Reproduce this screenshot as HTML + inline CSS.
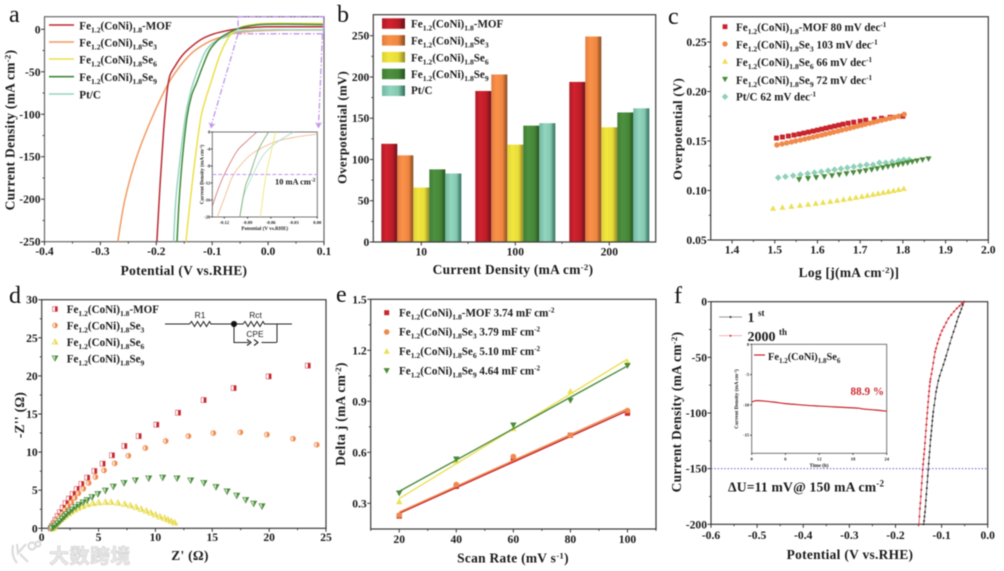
<!DOCTYPE html>
<html lang="en">
<head>
<meta charset="utf-8">
<title>Fe1.2(CoNi)1.8Se electrocatalyst charts</title>
<style>
html,body{margin:0;padding:0;background:#fff;}
body{width:1004px;height:571px;overflow:hidden;position:relative;}
svg{display:block;position:absolute;left:0;top:0;font-family:"Liberation Serif","Noto Serif CJK SC",serif;font-weight:bold;fill:#1a1a1a;filter:blur(0.45px);}
.leg{font-size:11.1px;white-space:pre;}
.tick{font-size:11.6px;}
.ttl{font-size:13.4px;letter-spacing:.3px;}
.ttl2{font-size:12.8px;letter-spacing:.3px;}
.letter{font-size:24px;font-weight:normal;fill:#111;}
.inlbl{font-size:4.6px;}
.inttl{font-size:5.2px;}
.wm{font-family:"Noto Sans CJK SC","WenQuanYi Zen Hei",sans-serif;font-size:20px;font-weight:bold;fill:#e9e9e9;stroke:#cfcfcf;stroke-width:.6px;letter-spacing:.5px;}
</style>
</head>
<body>
<svg id="fig" width="1004" height="571" viewBox="0 0 1004 571" xmlns="http://www.w3.org/2000/svg">
<defs>
<linearGradient id="gMOF"><stop offset="0" stop-color="#a91c28"/><stop offset=".3" stop-color="#d4222f"/><stop offset=".7" stop-color="#bb1c29"/><stop offset="1" stop-color="#6d1019"/></linearGradient>
<linearGradient id="gSe3"><stop offset="0" stop-color="#e07c3e"/><stop offset=".3" stop-color="#fb9149"/><stop offset=".7" stop-color="#ef8742"/><stop offset="1" stop-color="#85481f"/></linearGradient>
<linearGradient id="gSe6"><stop offset="0" stop-color="#dcd03a"/><stop offset=".3" stop-color="#f3e63e"/><stop offset=".7" stop-color="#e9dc3a"/><stop offset="1" stop-color="#8f8620"/></linearGradient>
<linearGradient id="gSe9"><stop offset="0" stop-color="#3f7d35"/><stop offset=".3" stop-color="#4d9140"/><stop offset=".7" stop-color="#468739"/><stop offset="1" stop-color="#25501f"/></linearGradient>
<linearGradient id="gPt"><stop offset="0" stop-color="#6fb8a2"/><stop offset=".35" stop-color="#93d5be"/><stop offset=".7" stop-color="#84c8b0"/><stop offset="1" stop-color="#2f6b5c"/></linearGradient>
<clipPath id="clipA"><rect x="44.5" y="16.7" width="279.5" height="225"/></clipPath>
<clipPath id="clipAI"><rect x="212.3" y="132" width="105" height="85"/></clipPath>
</defs>

<g id="panel-a">
 <text class="letter" x="9" y="22">a</text>
 <g id="a-axes"></g>
 <g id="a-marks" clip-path="url(#clipA)"></g>
 <g fill="none" stroke="#c296ea" stroke-width="1.3" stroke-dasharray="6 2 1.5 2">
  <rect x="238" y="16.8" width="85.5" height="17"/>
  <path d="M238 33.8 L211 126"/>
  <path d="M322.5 33.8 L318.5 126"/>
 </g>
 <path d="M208.5 122 L211 128.5 L215.5 123.5 L211.5 124.5Z M315 122 L318.5 128.5 L322 122 L318.5 124Z" fill="#c296ea"/>
 <g class="leg">
  <g id="a-legend-lines"></g>
  <text x="79.3" y="29.5">Fe<tspan font-size="7.6" dy="3">1.2</tspan><tspan dy="-3">(CoNi)</tspan><tspan font-size="7.6" dy="3">1.8</tspan><tspan dy="-3">-MOF</tspan></text>
  <text x="79.3" y="46.5">Fe<tspan font-size="7.6" dy="3">1.2</tspan><tspan dy="-3">(CoNi)</tspan><tspan font-size="7.6" dy="3">1.8</tspan><tspan dy="-3">Se</tspan><tspan font-size="7.6" dy="3">3</tspan></text>
  <text x="79.3" y="63.5">Fe<tspan font-size="7.6" dy="3">1.2</tspan><tspan dy="-3">(CoNi)</tspan><tspan font-size="7.6" dy="3">1.8</tspan><tspan dy="-3">Se</tspan><tspan font-size="7.6" dy="3">6</tspan></text>
  <text x="79.3" y="81">Fe<tspan font-size="7.6" dy="3">1.2</tspan><tspan dy="-3">(CoNi)</tspan><tspan font-size="7.6" dy="3">1.8</tspan><tspan dy="-3">Se</tspan><tspan font-size="7.6" dy="3">9</tspan></text>
  <text x="79.3" y="98.5">Pt/C</text>
 </g>
 <text class="ttl" x="184" y="275" text-anchor="middle">Potential (V vs.RHE)</text>
 <text class="ttl" transform="translate(14.5,130) rotate(-90)" text-anchor="middle">Current Density (mA cm<tspan font-size="8.8" dy="-4">-2</tspan><tspan dy="4">)</tspan></text>
 <g id="ai-axes"></g>
 <g id="ai-marks" clip-path="url(#clipAI)"></g>
 <line id="ai-ref" x1="212.3" x2="317.3" y1="174.5" y2="174.5" stroke="#c296ea" stroke-width="1" stroke-dasharray="4 2"/>
 <text x="275" y="184.5" font-size="8.4">10 mA cm<tspan font-size="5.5" dy="-3">-2</tspan></text>
 <text class="inttl" x="264.8" y="230" text-anchor="middle">Potential (V vs.RHE)</text>
 <text class="inttl" transform="translate(203.5,174.5) rotate(-90)" text-anchor="middle">Current Density (mA cm<tspan font-size="3.5" dy="-1.5">-2</tspan><tspan dy="1.5">)</tspan></text>
</g>

<g id="panel-b">
 <text class="letter" x="337" y="22">b</text>
 <g id="b-marks"></g>
 <g id="b-axes"></g>
 <g class="leg">
  <g id="b-legend-swatches"></g>
  <text x="411" y="27.5">Fe<tspan font-size="7.6" dy="3">1.2</tspan><tspan dy="-3">(CoNi)</tspan><tspan font-size="7.6" dy="3">1.8</tspan><tspan dy="-3">-MOF</tspan></text>
  <text x="411" y="44.5">Fe<tspan font-size="7.6" dy="3">1.2</tspan><tspan dy="-3">(CoNi)</tspan><tspan font-size="7.6" dy="3">1.8</tspan><tspan dy="-3">Se</tspan><tspan font-size="7.6" dy="3">3</tspan></text>
  <text x="411" y="61.5">Fe<tspan font-size="7.6" dy="3">1.2</tspan><tspan dy="-3">(CoNi)</tspan><tspan font-size="7.6" dy="3">1.8</tspan><tspan dy="-3">Se</tspan><tspan font-size="7.6" dy="3">6</tspan></text>
  <text x="411" y="78">Fe<tspan font-size="7.6" dy="3">1.2</tspan><tspan dy="-3">(CoNi)</tspan><tspan font-size="7.6" dy="3">1.8</tspan><tspan dy="-3">Se</tspan><tspan font-size="7.6" dy="3">9</tspan></text>
  <text x="411" y="94">Pt/C</text>
 </g>
 <text class="ttl" x="513" y="274" text-anchor="middle">Current Density (mA cm<tspan font-size="8.8" dy="-4">-2</tspan><tspan dy="4">)</tspan></text>
 <text class="ttl2" transform="translate(346.5,127.5) rotate(-90)" text-anchor="middle">Overpotential (mV)</text>
</g>

<g id="panel-c">
 <text class="letter" x="668" y="24">c</text>
 <g id="c-axes"></g>
 <g id="c-marks"></g>
 <g class="leg">
  <g id="c-legend-marks"></g>
  <text x="736" y="31">Fe<tspan font-size="7.6" dy="3">1.2</tspan><tspan dy="-3">(CoNi)</tspan><tspan font-size="7.6" dy="3">1.8</tspan><tspan dy="-3">-MOF  80 mV dec</tspan><tspan font-size="7.2" dy="-4">-1</tspan></text>
  <text x="736" y="48.5">Fe<tspan font-size="7.6" dy="3">1.2</tspan><tspan dy="-3">(CoNi)</tspan><tspan font-size="7.6" dy="3">1.8</tspan><tspan dy="-3">Se</tspan><tspan font-size="7.6" dy="3">3</tspan><tspan dy="-3">  103 mV dec</tspan><tspan font-size="7.2" dy="-4">-1</tspan></text>
  <text x="736" y="66">Fe<tspan font-size="7.6" dy="3">1.2</tspan><tspan dy="-3">(CoNi)</tspan><tspan font-size="7.6" dy="3">1.8</tspan><tspan dy="-3">Se</tspan><tspan font-size="7.6" dy="3">6</tspan><tspan dy="-3">  66 mV dec</tspan><tspan font-size="7.2" dy="-4">-1</tspan></text>
  <text x="736" y="84">Fe<tspan font-size="7.6" dy="3">1.2</tspan><tspan dy="-3">(CoNi)</tspan><tspan font-size="7.6" dy="3">1.8</tspan><tspan dy="-3">Se</tspan><tspan font-size="7.6" dy="3">9</tspan><tspan dy="-3">  72 mV dec</tspan><tspan font-size="7.2" dy="-4">-1</tspan></text>
  <text x="736" y="100.5">Pt/C  62 mV dec<tspan font-size="7.2" dy="-4">-1</tspan></text>
 </g>
 <text class="ttl" x="849" y="277" text-anchor="middle">Log [j(mA cm<tspan font-size="8.8" dy="-4">-2</tspan><tspan dy="4">)]</tspan></text>
 <text class="ttl2" transform="translate(682,129) rotate(-90)" text-anchor="middle">Overpotential (V)</text>
</g>

<g id="panel-d">
 <text class="letter" x="9" y="303">d</text>
 <g id="d-axes"></g>
 <g id="d-marks"></g>
 <g class="leg">
  <g id="d-legend-marks"></g>
  <text x="66.7" y="313">Fe<tspan font-size="7.6" dy="3">1.2</tspan><tspan dy="-3">(CoNi)</tspan><tspan font-size="7.6" dy="3">1.8</tspan><tspan dy="-3">-MOF</tspan></text>
  <text x="66.7" y="329.5">Fe<tspan font-size="7.6" dy="3">1.2</tspan><tspan dy="-3">(CoNi)</tspan><tspan font-size="7.6" dy="3">1.8</tspan><tspan dy="-3">Se</tspan><tspan font-size="7.6" dy="3">3</tspan></text>
  <text x="66.7" y="346">Fe<tspan font-size="7.6" dy="3">1.2</tspan><tspan dy="-3">(CoNi)</tspan><tspan font-size="7.6" dy="3">1.8</tspan><tspan dy="-3">Se</tspan><tspan font-size="7.6" dy="3">6</tspan></text>
  <text x="66.7" y="362.5">Fe<tspan font-size="7.6" dy="3">1.2</tspan><tspan dy="-3">(CoNi)</tspan><tspan font-size="7.6" dy="3">1.8</tspan><tspan dy="-3">Se</tspan><tspan font-size="7.6" dy="3">9</tspan></text>
 </g>
 <g fill="none" stroke="#222" stroke-width="1">
  <path d="M165 324 H189.5 l2 -2.5 l3 5 l3 -5 l3 5 l3 -5 l3 5 l3 -5 l1.5 2.5 H233.5 H243 l2 -2.5 l3 5 l3 -5 l3 5 l3 -5 l3 5 l3 -5 l1.5 2.5 H292 M234 324 V342.5 H249 M276.5 342.5 H262 V343 M277 342.5 V324"/>
  <path d="M247 339.5 L251 342.5 L247 345.5 M254 339.5 L258 342.5 L254 345.5" stroke-width="1.1"/>
  <circle cx="234" cy="324" r="2.6" fill="#111"/>
 </g>
 <g font-family='"Liberation Sans",sans-serif' font-weight="normal" font-size="8.4">
  <text x="200" y="318" text-anchor="middle">R1</text>
  <text x="255.5" y="318" text-anchor="middle">Rct</text>
  <text x="255" y="337" text-anchor="middle">CPE</text>
 </g>
 <text class="ttl" x="190" y="560" text-anchor="middle">Z' (Ω)</text>
 <text class="ttl" transform="translate(24,415) rotate(-90)" text-anchor="middle">-Z'' (Ω)</text>
</g>

<g id="panel-e">
 <text class="letter" x="336" y="302" font-size="24">e</text>
 <g id="e-axes"></g>
 <g id="e-marks"></g>
 <g class="leg">
  <g id="e-legend-marks"></g>
  <text x="399" y="316.5">Fe<tspan font-size="7.6" dy="3">1.2</tspan><tspan dy="-3">(CoNi)</tspan><tspan font-size="7.6" dy="3">1.8</tspan><tspan dy="-3">-MOF 3.74 mF cm</tspan><tspan font-size="7.2" dy="-4">-2</tspan></text>
  <text x="399" y="335.5">Fe<tspan font-size="7.6" dy="3">1.2</tspan><tspan dy="-3">(CoNi)</tspan><tspan font-size="7.6" dy="3">1.8</tspan><tspan dy="-3">Se</tspan><tspan font-size="7.6" dy="3">3</tspan><tspan dy="-3"> 3.79 mF cm</tspan><tspan font-size="7.2" dy="-4">-2</tspan></text>
  <text x="399" y="355">Fe<tspan font-size="7.6" dy="3">1.2</tspan><tspan dy="-3">(CoNi)</tspan><tspan font-size="7.6" dy="3">1.8</tspan><tspan dy="-3">Se</tspan><tspan font-size="7.6" dy="3">6</tspan><tspan dy="-3"> 5.10 mF cm</tspan><tspan font-size="7.2" dy="-4">-2</tspan></text>
  <text x="399" y="374.5">Fe<tspan font-size="7.6" dy="3">1.2</tspan><tspan dy="-3">(CoNi)</tspan><tspan font-size="7.6" dy="3">1.8</tspan><tspan dy="-3">Se</tspan><tspan font-size="7.6" dy="3">9</tspan><tspan dy="-3"> 4.64 mF cm</tspan><tspan font-size="7.2" dy="-4">-2</tspan></text>
 </g>
 <text class="ttl" x="513" y="562.5" text-anchor="middle">Scan Rate (mV s<tspan font-size="8.8" dy="-4">-1</tspan><tspan dy="4">)</tspan></text>
 <text class="ttl" transform="translate(345,414) rotate(-90)" text-anchor="middle">Delta j (mA cm<tspan font-size="8.8" dy="-4">-2</tspan><tspan dy="4">)</tspan></text>
</g>

<g id="panel-f">
 <text class="letter" x="674" y="303">f</text>
 <g id="f-axes"></g>
 <line id="f-ref" stroke="#6a5fd0" stroke-width="1" stroke-dasharray="1.5 1.8"/>
 <g id="f-marks"></g>
 <g>
  <g id="f-legend-lines"></g>
  <text x="747.5" y="322" font-size="14">1 <tspan font-size="9" dy="-6">st</tspan></text>
  <text x="747.5" y="341" font-size="14">2000 <tspan font-size="9" dy="-6">th</tspan></text>
 </g>
 <text x="728" y="491.5" font-size="13.6" letter-spacing=".2">ΔU=11 mV@ 150 mA cm<tspan font-size="9" dy="-5">-2</tspan></text>
 <text class="ttl" x="850" y="559" text-anchor="middle">Potential (V vs.RHE)</text>
 <text class="ttl" transform="translate(681,412) rotate(-90)" text-anchor="middle">Current Density (mA cm<tspan font-size="8.8" dy="-4">-2</tspan><tspan dy="4">)</tspan></text>
 <g id="fi-axes"></g>
 <g id="fi-marks"></g>
 <line x1="754" x2="765" y1="355" y2="355" stroke="#c8242c" stroke-width="1.2"/>
 <text x="768" y="360" font-size="10.4">Fe<tspan font-size="7" dy="3">1.2</tspan><tspan dy="-3">(CoNi)</tspan><tspan font-size="7" dy="3">1.8</tspan><tspan dy="-3">Se</tspan><tspan font-size="7" dy="3">6</tspan></text>
 <text x="850.5" y="395" font-size="11.2" fill="#cf2a30">88.9 %</text>
 <text class="inttl" x="819" y="467" text-anchor="middle" font-size="5.6">Time (h)</text>
 <text class="inttl" transform="translate(738,399) rotate(-90)" text-anchor="middle">Current Density (mA cm<tspan font-size="3.5" dy="-1.5">-2</tspan><tspan dy="1.5">)</tspan></text>
</g>

<g>
 <g fill="none" stroke="#dcdcdc" stroke-width="2.2">
  <path d="M13 545 Q11 556 17 563 M17 544 L18 553 L26 544 M20 554 L28 562"/>
  <circle cx="32" cy="546" r="3.5"/><circle cx="38" cy="544" r="2.5"/>
 </g>
 <text class="wm" x="49" y="563">大数跨境</text>
</g>
</svg>

<script>
// Panel a: main polarization curves (potential V, current density mA cm-2)
const aMofV = [-0.199,-0.193,-0.187,-0.181,-0.176,-0.168,-0.155,-0.14,-0.12,-0.1,-0.08,-0.06,-0.04,-0.02,0,0.05,0.1];
const aMofJ = [-250,-180,-120,-75,-55,-45,-32,-22,-12,-6,-2.5,0,1.5,2.5,3,3,3];
const aSe3V = [-0.269,-0.256,-0.235,-0.205,-0.175,-0.14,-0.107,-0.08,-0.062,-0.026,0.02,0.06,0.1];
const aSe3J = [-250,-200,-150,-100,-60,-30,-15,-8.5,-5,-2,-1,-0.9,-0.8];
const aSe6V = [-0.147,-0.139,-0.13,-0.119,-0.101,-0.086,-0.071,-0.056,-0.041,-0.02,0,0.05,0.1];
const aSe6J = [-250,-200,-150,-100,-60,-30,-10,0,4,6.2,7,7,6.8];
const aSe9V = [-0.163,-0.159,-0.153,-0.145,-0.137,-0.128,-0.116,-0.104,-0.086,-0.07,-0.053,-0.038,-0.015,0,0.05,0.1];
const aSe9J = [-250,-200,-150,-103,-78,-63,-42,-24,-10.5,-4,1,3.5,5.5,6,6,5.5];
const aPtV = [-0.169,-0.165,-0.157,-0.148,-0.141,-0.134,-0.122,-0.11,-0.092,-0.074,-0.056,-0.03,0,0.05,0.1];
const aPtJ = [-250,-200,-150,-103,-80,-63,-41,-24,-13,-8.6,-2.7,-1.2,-0.5,-0.5,-0.5];
// Panel a inset curves
const aiMofV = [-0.1355,-0.128,-0.12,-0.104,-0.09,-0.078];
const aiMofJ = [-17.5,-13.5,-10,-4.6,-2,0];
const aiSe3V = [-0.129,-0.12,-0.108,-0.09,-0.076,-0.054,-0.03,0];
const aiSe3J = [-20,-15.6,-10,-6,-4.2,-2.3,-1.25,-0.5];
const aiSe6V = [-0.0735,-0.07,-0.066,-0.06,-0.054];
const aiSe6J = [-20,-15,-10,-5,0];
const aiSe9V = [-0.1,-0.093,-0.087,-0.076,-0.063];
const aiSe9J = [-20,-12.9,-10,-4.2,0];
const aiPtV = [-0.1,-0.095,-0.083,-0.07,-0.055,-0.04,-0.03];
const aiPtJ = [-20,-15,-10,-5.5,-2.8,-1,0];
// Panel b: overpotential bars
const bCategories = ["10","100","200"];
const bMof = [119,183,194];
const bSe3 = [105,203,249];
const bSe6 = [66,118,139];
const bSe9 = [88,141,157];
const bPt = [83,144,162];
// Panel c: Tafel data
const cMofX = [1.504,1.518,1.532,1.545,1.557,1.568,1.579,1.59,1.6,1.61,1.62,1.63,1.64,1.65,1.66,1.672,1.685,1.7,1.713,1.733,1.75,1.77,1.8];
const cMofY = [.153,.154,.155,.156,.157,.158,.159,.16,.161,.162,.163,.164,.165,.166,.167,.168,.169,.17,.171,.172,.173,.174,.175];
const cSe3X = [1.505,1.517,1.528,1.539,1.549,1.56,1.57,1.58,1.59,1.6,1.61,1.619,1.629,1.638,1.648,1.657,1.667,1.676,1.685,1.694,1.703,1.712,1.722,1.731,1.74,1.75,1.76,1.77,1.78,1.79,1.803];
const cSe3Y = [.146,.147,.148,.149,.15,.151,.152,.153,.154,.155,.156,.157,.158,.159,.16,.161,.162,.163,.164,.165,.166,.167,.168,.169,.17,.171,.172,.173,.174,.175,.177];
const cSe6X = [1.496,1.518,1.539,1.559,1.578,1.596,1.613,1.63,1.646,1.661,1.676,1.69,1.704,1.717,1.73,1.742,1.754,1.766,1.778,1.79,1.802];
const cSe6Y = [.082,.083,.084,.085,.086,.087,.088,.089,.09,.091,.092,.093,.094,.095,.096,.097,.098,.099,.1,.101,.102];
const cSe9X = [1.557,1.578,1.597,1.616,1.634,1.651,1.668,1.684,1.699,1.713,1.727,1.74,1.753,1.765,1.777,1.789,1.8,1.811,1.822,1.833,1.846,1.86];
const cSe9Y = [.111,.112,.113,.114,.115,.116,.117,.118,.119,.12,.121,.122,.123,.124,.125,.126,.127,.128,.129,.13,.131,.132];
const cPtX = [1.508,1.525,1.543,1.56,1.577,1.593,1.609,1.625,1.64,1.655,1.67,1.685,1.7,1.715,1.73,1.745,1.76,1.775,1.79,1.802,1.815];
const cPtY = [.113,.114,.115,.116,.117,.118,.119,.12,.121,.122,.123,.124,.125,.126,.126,.128,.128,.129,.13,.131,.131];
// Panel d: Nyquist data
const dMofX = [23.4,19.96,16.88,14.24,11.99,10.08,8.53,7.27,6.18,5.36,4.63,4,3.49,3.08,2.73,2.4,2.1,1.85,1.6,1.4,1.2,1.05,.9,.8];
const dMofY = [21.35,19.94,18.4,16.83,15.17,13.6,12.1,10.8,9.58,8.48,7.52,6.65,5.82,5.16,4.5,3.9,3.3,2.7,2.1,1.6,1.1,.65,.3,0];
const dSe3X = [24.18,22.1,19.8,17.47,15.09,12.9,10.9,9.11,7.62,6.42,5.48,4.72,4.13,3.66,3.22,2.9,2.6,2.3,2.05,1.8,1.55,1.3,1.1,.95,.85];
const dSe3Y = [10.97,11.76,12.3,12.6,12.5,12.1,11.46,10.54,9.53,8.53,7.6,6.73,5.95,5.2,4.6,4,3.4,2.9,2.4,1.9,1.45,1,.6,.25,0];
const dSe6X = [11.7,11.4,11.1,10.8,10.4,10,9.6,9.2,8.75,8.3,7.8,7.3,6.7,6.1,5.6,5,4.5,4,3.6,3.2,2.9,2.6,2.35,2.1,1.9,1.7,1.5,1.35,1.2,1.1,1];
const dSe6Y = [.75,.95,1.15,1.35,1.55,1.8,2.05,2.3,2.55,2.8,3,3.2,3.35,3.45,3.45,3.4,3.3,3.15,2.9,2.7,2.45,2.2,1.95,1.7,1.45,1.2,.95,.7,.45,.2,0];
const dSe9X = [19.37,18.64,17.94,17.15,16.3,15.33,14.27,13.1,11.9,10.64,9.41,8.24,7.24,6.3,5.6,4.95,4.43,4,3.65,3.3,3,2.7,2.45,2.2,2,1.8,1.6,1.4,1.2,1,.85];
const dSe9Y = [2.89,3.24,3.72,4.29,4.85,5.42,5.95,6.3,6.56,6.65,6.56,6.3,5.95,5.47,4.94,4.5,4.1,3.7,3.4,3.1,2.8,2.45,2.15,1.85,1.55,1.25,.95,.65,.35,.1,0];
// Panel e: double-layer capacitance data
const eScanRates = [20,40,60,80,100];
const eMof = [.225,.40,.56,.70,.83];
const eSe3 = [.23,.41,.575,.70,.845];
const eSe6 = [.31,.55,.74,.96,1.13];
const eSe9 = [.36,.56,.76,.905,1.11];
// Panel f: before/after cycling polarization
const fFirstV = [-0.051,-0.054,-0.057,-0.06,-0.0636,-0.067,-0.07,-0.074,-0.078,-0.082,-0.086,-0.09,-0.0925,-0.096,-0.1,-0.104,-0.107,-0.11,-0.112,-0.114,-0.116,-0.118,-0.119,-0.12,-0.121,-0.122,-0.123,-0.124,-0.125,-0.126,-0.127,-0.128,-0.129,-0.13,-0.131,-0.132,-0.133,-0.134,-0.135,-0.136,-0.137,-0.138,-0.139];
const fFirstJ = [0,-3,-6.5,-10,-13.5,-18,-22,-27,-32,-37.5,-43,-48.5,-52,-56.5,-61.5,-66.5,-71,-77,-81,-87,-93,-99,-103,-107,-111.5,-116,-120.5,-124,-129.5,-135,-140,-145.5,-151,-156.5,-162,-167.5,-173,-178.5,-184,-189,-193,-197,-200];
const fSecondV = [-0.051,-0.056,-0.061,-0.067,-0.073,-0.079,-0.085,-0.09,-0.095,-0.099,-0.103,-0.106,-0.109,-0.112,-0.114,-0.116,-0.118,-0.12,-0.122,-0.124,-0.125,-0.126,-0.127,-0.128,-0.129,-0.13,-0.131,-0.132,-0.133,-0.134,-0.135,-0.136,-0.137,-0.138,-0.139,-0.14,-0.141,-0.142,-0.143,-0.144,-0.145,-0.146,-0.147,-0.148,-0.149];
const fSecondJ = [0,-1.8,-3.8,-6,-8.8,-11.8,-15,-18.8,-22.8,-26,-30,-33.5,-37.5,-42,-45,-50,-55,-60.5,-65,-69.5,-72,-76,-80.5,-85,-90,-95,-100,-105,-110.5,-116,-121.5,-127,-132.5,-137,-141.5,-146,-151,-157,-163,-169,-175,-181,-186,-193,-200];
// Panel f inset: chronoamperometry
const fiTime = [0,0.5,1,2,4,6,8,10,12,14,16,18,19,20,22,24];
const fiJ = [-9.55,-9.35,-9.3,-9.35,-9.55,-9.8,-9.95,-10.1,-10.2,-10.3,-10.4,-10.5,-10.55,-10.7,-10.85,-11.05];

const NS = "http://www.w3.org/2000/svg";
const col = {mof:"#c8242c",se3:"#f08a4b",se6:"#ecdf55",se9:"#4a8a3a",pt:"#90d0b8"};
const lineCol = {mof:"#b92a32",se3:"#f29a62",se6:"#ece04a",se9:"#3f8a3c",pt:"#98d4c0"};

function scale(d0,d1,r0,r1){return v=>r0+(v-d0)*(r1-r0)/(d1-d0);}
function byId(i){return document.getElementById(i);}
function make(tag,attrs){const n=document.createElementNS(NS,tag);for(const k in attrs)n.setAttribute(k,attrs[k]);return n;}

function drawAxes(gid,o){
  const g=byId(gid);
  const frame=make("rect",{x:o.l,y:o.t,width:o.r-o.l,height:o.b-o.t,fill:"none",stroke:o.frame||"#3a3a3a","stroke-width":o.sw||1.2});
  
  
  g.appendChild(frame);
  const tl=o.tl||3.5;
  (o.xTicks||[]).forEach((t,i)=>{
    const x=o.x(t);
    const tick=make("line",{x1:x,x2:x,y1:o.b,y2:o.b+tl,stroke:"#333","stroke-width":1});
    
    
    g.appendChild(tick);
    const lab=make("text",{x:x,y:o.b+(o.xOff||13.5),"text-anchor":"middle",class:o.cls||"tick"});
    
    
    lab.textContent=o.xLabels?o.xLabels[i]:t;
    g.appendChild(lab);
  });
  (o.xMinor||[]).forEach(t=>{
    const x=o.x(t);
    const tick=make("line",{x1:x,x2:x,y1:o.b,y2:o.b+tl*0.55,stroke:"#333","stroke-width":.9});
    
    
    g.appendChild(tick);
  });
  (o.yTicks||[]).forEach((t,i)=>{
    const y=o.y(t);
    const tick=make("line",{x1:o.l-tl,x2:o.l,y1:y,y2:y,stroke:"#333","stroke-width":1});
    
    
    g.appendChild(tick);
    const lab=make("text",{x:o.l-(o.yOff||4),y:y+(o.yBase||4),"text-anchor":"end",class:o.cls||"tick"});
    
    
    lab.textContent=o.yLabels?o.yLabels[i]:t;
    g.appendChild(lab);
  });
  (o.yMinor||[]).forEach(t=>{
    const y=o.y(t);
    const tick=make("line",{x1:o.l-tl*0.55,x2:o.l,y1:y,y2:y,stroke:"#333","stroke-width":.9});
    
    
    g.appendChild(tick);
  });
}

function smooth(xs,ys,sx,sy){
  const p=xs.map((v,i)=>[sx(v),sy(ys[i])]);
  let d="M"+p[0][0].toFixed(2)+" "+p[0][1].toFixed(2);
  for(let i=0;i<p.length-1;i++){
    const a=p[Math.max(i-1,0)],b=p[i],c=p[i+1],e=p[Math.min(i+2,p.length-1)];
    const c1x=b[0]+(c[0]-a[0])/6,c1y=b[1]+(c[1]-a[1])/6,c2x=c[0]-(e[0]-b[0])/6,c2y=c[1]-(e[1]-b[1])/6;
    d+=" C"+c1x.toFixed(2)+" "+c1y.toFixed(2)+" "+c2x.toFixed(2)+" "+c2y.toFixed(2)+" "+c[0].toFixed(2)+" "+c[1].toFixed(2);
  }
  return d;
}
function curve(gid,xs,ys,sx,sy,color,w,name){
  const el=make("path",{d:smooth(xs,ys,sx,sy),fill:"none",stroke:color,"stroke-width":w,"stroke-linejoin":"round"});
  
  
  byId(gid).appendChild(el);
}

function marker(parent,kind,cx,cy,r,color,name){
  let el;
  if(kind==="square") el=make("rect",{x:cx-r,y:cy-r,width:2*r,height:2*r,fill:color});
  else if(kind==="circle") el=make("circle",{cx:cx,cy:cy,r:r*1.1,fill:color});
  else if(kind==="up") el=make("polygon",{points:(cx)+","+(cy-r*1.25)+" "+(cx+r*1.25)+","+(cy+r)+" "+(cx-r*1.25)+","+(cy+r),fill:color});
  else if(kind==="down") el=make("polygon",{points:(cx)+","+(cy+r*1.25)+" "+(cx+r*1.25)+","+(cy-r)+" "+(cx-r*1.25)+","+(cy-r),fill:color});
  else el=make("polygon",{points:(cx)+","+(cy-r*1.35)+" "+(cx+r*1.35)+","+cy+" "+(cx)+","+(cy+r*1.35)+" "+(cx-r*1.35)+","+cy,fill:color});
  
  
  parent.appendChild(el);
  return el;
}
function halfMarker(parent,kind,cx,cy,r,color,name){
  const g=make("g",{});
  
  
  if(kind==="square"){
    g.appendChild(make("rect",{x:cx-r,y:cy-r,width:2*r,height:2*r,fill:"#fff",stroke:color,"stroke-width":.7,"stroke-opacity":.7}));
    g.appendChild(make("rect",{x:cx,y:cy-r,width:r,height:2*r,fill:color}));
  }else if(kind==="circle"){
    g.appendChild(make("circle",{cx:cx,cy:cy,r:r,fill:"#fde3d0",stroke:color,"stroke-width":.7}));
    g.appendChild(make("path",{d:"M"+cx+" "+(cy-r)+" A"+r+" "+r+" 0 0 1 "+cx+" "+(cy+r)+"Z",fill:color}));
  }else if(kind==="up"){
    g.appendChild(make("polygon",{points:cx+","+(cy-r*1.2)+" "+(cx+r*1.2)+","+(cy+r)+" "+(cx-r*1.2)+","+(cy+r),fill:"#fbf6b8",stroke:color,"stroke-width":.7}));
    g.appendChild(make("polygon",{points:cx+","+(cy-r*1.2)+" "+(cx+r*1.2)+","+(cy+r)+" "+cx+","+(cy+r),fill:color}));
  }else{
    g.appendChild(make("polygon",{points:cx+","+(cy+r*1.2)+" "+(cx+r*1.2)+","+(cy-r)+" "+(cx-r*1.2)+","+(cy-r),fill:"#dceeda",stroke:color,"stroke-width":.7}));
    g.appendChild(make("polygon",{points:cx+","+(cy+r*1.2)+" "+(cx+r*1.2)+","+(cy-r)+" "+cx+","+(cy-r),fill:color}));
  }
  parent.appendChild(g);
}

// ---- Panel a
const ax=scale(-0.4,0.1,44.5,324), ay=scale(0,-250,29.3,241.7);
drawAxes("a-axes",{l:44.5,r:324,t:16.7,b:241.7,x:ax,y:ay,
  xTicks:[-0.4,-0.3,-0.2,-0.1,0,0.1],xLabels:["-0.4","-0.3","-0.2","-0.1","0.0","0.1"],xMinor:[-0.35,-0.25,-0.15,-0.05,0.05],
  yTicks:[0,-50,-100,-150,-200,-250],yMinor:[-25,-75,-125,-175,-225],frame:"#666"});
curve("a-marks",aSe3V,aSe3J,ax,ay,lineCol.se3,1.5,"curve-se3");
curve("a-marks",aMofV,aMofJ,ax,ay,lineCol.mof,1.5,"curve-mof");
curve("a-marks",aPtV,aPtJ,ax,ay,lineCol.pt,1.5,"curve-ptc");
curve("a-marks",aSe6V,aSe6J,ax,ay,lineCol.se6,1.5,"curve-se6");
curve("a-marks",aSe9V,aSe9J,ax,ay,lineCol.se9,1.5,"curve-se9");
[["mof",25],["se3",42],["se6",59],["se9",76.7],["pt",94]].forEach(e=>{
  const l=make("line",{x1:49,x2:74,y1:e[1],y2:e[1],stroke:lineCol[e[0]],"stroke-width":1.6});
  
  
  byId("a-legend-lines").appendChild(l);
});
// inset of a
const aix=scale(-0.1355,0,212.3,317.3), aiy=scale(0,-20,132,217);
drawAxes("ai-axes",{l:212.3,r:317.3,t:132,b:217,x:aix,y:aiy,tl:1.5,cls:"inlbl",xOff:7,yOff:2,yBase:1.5,sw:.9,frame:"#666",
  xTicks:[-0.12,-0.09,-0.06,-0.03,0],xLabels:["-0.12","-0.09","-0.06","-0.03","0.00"],
  yTicks:[0,-4,-8,-12,-16,-20]});
curve("ai-marks",aiMofV,aiMofJ,aix,aiy,"#cf6a6e",.8,"inset-curve-mof");
curve("ai-marks",aiSe3V,aiSe3J,aix,aiy,"#f5b48a",.8,"inset-curve-se3");
curve("ai-marks",aiPtV,aiPtJ,aix,aiy,"#a8ddcb",.8,"inset-curve-ptc");
curve("ai-marks",aiSe9V,aiSe9J,aix,aiy,"#6fa862",.8,"inset-curve-se9");
curve("ai-marks",aiSe6V,aiSe6J,aix,aiy,"#eee26a",.8,"inset-curve-se6");

// ---- Panel b
const by=scale(0,250,242,35.7);
const bBarW=16, bGroupStep=94, bFirst=381.3;
const bSeries=[[bMof,"gMOF","mof"],[bSe3,"gSe3","se3"],[bSe6,"gSe6","se6"],[bSe9,"gSe9","se9"],[bPt,"gPt","ptc"]];
bSeries.forEach((s,si)=>{
  s[0].forEach((v,ci)=>{
    const x=bFirst+ci*bGroupStep+si*bBarW;
    const r=make("rect",{x:x,y:by(v),width:bBarW,height:242-by(v),fill:"url(#"+s[1]+")"});
    
    
    byId("b-marks").appendChild(r);
  });
  const sw=make("rect",{x:382,y:18.3+si*16.8,width:23,height:10.5,fill:"url(#"+s[1]+")"});
  
  
  byId("b-legend-swatches").appendChild(sw);
});
const bxs=v=>v;
drawAxes("b-axes",{l:373.3,r:655.7,t:14.7,b:242,x:bxs,y:by,
  xTicks:bCategories.map((c,i)=>bFirst+i*bGroupStep+2.5*bBarW),xLabels:bCategories,
  xMinor:[468,562],
  yTicks:[0,50,100,150,200,250],yMinor:[25,75,125,175,225]});

// ---- Panel c
const cx=scale(1.35,2.0,710.7,988.3), cy=scale(0.05,0.25,240,42);
drawAxes("c-axes",{l:710.7,r:988.3,t:16.7,b:240,x:cx,y:cy,
  xTicks:[1.4,1.5,1.6,1.7,1.8,1.9,2.0],xLabels:["1.4","1.5","1.6","1.7","1.8","1.9","2.0"],xMinor:[1.45,1.55,1.65,1.75,1.85,1.95],
  yTicks:[0.05,0.10,0.15,0.20,0.25],yLabels:["0.05","0.10","0.15","0.20","0.25"],yMinor:[0.075,0.125,0.175,0.225]});
[[cPtX,cPtY,"pt","diamond"],[cSe9X,cSe9Y,"se9","down"],[cSe6X,cSe6Y,"se6","up"],[cMofX,cMofY,"mof","square"],[cSe3X,cSe3Y,"se3","circle"]].forEach(s=>{
  s[0].forEach((v,i)=>{
    marker(byId("c-marks"),s[3],cx(v),cy(s[1][i]),2.45,col[s[2]],'point-'+s[2]);
  });
});
[["mof","square",26.7],["se3","circle",44],["se6","up",61.3],["se9","down",79.3],["pt","diamond",96.7]].forEach(e=>{
  marker(byId("c-legend-marks"),e[1],725,e[2],2.4,col[e[0]],'legend-marker-'+e[0]);
});

// ---- Panel d
const dx=scale(0,25,41.7,326), dy=scale(0,30,528.3,299.7);
drawAxes("d-axes",{l:41.7,r:326,t:299.7,b:528.3,x:dx,y:dy,
  xTicks:[0,5,10,15,20,25],xMinor:[2.5,7.5,12.5,17.5,22.5],xOff:12.5,
  yTicks:[0,5,10,15,20,25,30],yMinor:[2.5,7.5,12.5,17.5,22.5,27.5]});
[[dMofX,dMofY,"#c8242c","square"],[dSe3X,dSe3Y,"#ee8a4c","circle"],[dSe6X,dSe6Y,"#e7da50","up"],[dSe9X,dSe9Y,"#4a8a3a","down"]].forEach((s,si)=>{
  s[0].forEach((v,i)=>{
    halfMarker(byId("d-marks"),s[3],dx(v),dy(s[1][i]),2.5,s[2],'nyquist-point');
  });
  halfMarker(byId("d-legend-marks"),s[3],55,309+si*16.4,2.4,s[2],'legend-marker');
});

// ---- Panel e
const ex=scale(10,110,370.7,656), ey=scale(0.3,1.5,503.3,299.3);
drawAxes("e-axes",{l:370.7,r:656,t:299.3,b:529,x:ex,y:ey,xOff:14,
  xTicks:[20,40,60,80,100],xMinor:[10,30,50,70,90,110],
  yTicks:[0.3,0.6,0.9,1.2,1.5],yLabels:["0.3","0.6","0.9","1.2","1.5"],yMinor:[0.45,0.75,1.05,1.35]});
function fit(xs,ys){
  const n=xs.length,mx=xs.reduce((a,b)=>a+b)/n,my=ys.reduce((a,b)=>a+b)/n;
  let sxy=0,sxx=0;xs.forEach((x,i)=>{sxy+=(x-mx)*(ys[i]-my);sxx+=(x-mx)*(x-mx);});
  const m=sxy/sxx;return x=>my+m*(x-mx);
}
const ePlot=[[eMof,"#c8242c","square","mof"],[eSe3,"#ee8a4c","circle","se3"],[eSe6,"#ecdf55","up","se6"],[eSe9,"#4a8a3a","down","se9"]];
ePlot.forEach((s,si)=>{
  const f=fit(eScanRates,s[0]);
  const x0=eScanRates[0],x1=eScanRates[eScanRates.length-1];
  const l=make("line",{x1:ex(x0),x2:ex(x1),y1:ey(f(x0)),y2:ey(f(x1)),stroke:s[1],"stroke-width":1.4});
  
  
  byId("e-marks").appendChild(l);
  s[0].forEach((v,i)=>{
    marker(byId("e-marks"),s[2],ex(eScanRates[i]),ey(v),2.6,s[1],'point-'+s[3]);
  });
  marker(byId("e-legend-marks"),s[2],386.7,312.7+si*19.3,2.5,s[1],'legend-marker-'+s[3]);
});

// ---- Panel f
const fx=scale(-0.6,0,711,987.7), fy=scale(0,-200,301.7,524.3);
drawAxes("f-axes",{l:711,r:987.7,t:301.7,b:524.3,x:fx,y:fy,xOff:14.5,
  xTicks:[-0.6,-0.5,-0.4,-0.3,-0.2,-0.1,0],xLabels:["-0.6","-0.5","-0.4","-0.3","-0.2","-0.1","0.0"],xMinor:[-0.55,-0.45,-0.35,-0.25,-0.15,-0.05],
  yTicks:[0,-50,-100,-150,-200],yMinor:[-25,-75,-125,-175]});
const fRef=byId("f-ref");
fRef.setAttribute("x1",711);fRef.setAttribute("x2",987.7);fRef.setAttribute("y1",fy(-150));fRef.setAttribute("y2",fy(-150));
curve("f-marks",fFirstV,fFirstJ,fx,fy,"#444",.8,"curve-1st");
curve("f-marks",fSecondV,fSecondJ,fx,fy,"#d8414a",.8,"curve-2000th");
fFirstV.forEach((v,i)=>{
  const c=make("circle",{cx:fx(v),cy:fy(fFirstJ[i]),r:.95,fill:"#222"});
  
  
  byId("f-marks").appendChild(c);
});
fSecondV.forEach((v,i)=>{
  const c=make("circle",{cx:fx(v),cy:fy(fSecondJ[i]),r:1.05,fill:"#d8242c"});
  
  
  byId("f-marks").appendChild(c);
});
[[317,"#777","#222"],[335.7,"#e88","#d8242c"]].forEach(e=>{
  const l=make("line",{x1:719,x2:742,y1:e[0],y2:e[0],stroke:e[1],"stroke-width":.7});
  
  
  byId("f-legend-lines").appendChild(l);
  const d=make("circle",{cx:730.5,cy:e[0],r:1,fill:e[2]});
  
  
  byId("f-legend-lines").appendChild(d);
});
const fix=scale(0,24,751.7,886.7), fiy=scale(0,-18,344.3,453.3);
drawAxes("fi-axes",{l:751.7,r:886.7,t:344.3,b:453.3,x:fix,y:fiy,tl:1.5,cls:"inlbl",xOff:7,yOff:2.5,yBase:1.5,sw:.9,frame:"#666",
  xTicks:[0,6,12,18,24],yTicks:[0,-5,-10,-15]});
curve("fi-marks",fiTime,fiJ,fix,fiy,"#c8242c",1.2,"stability-curve");
</script>
</body>
</html>
